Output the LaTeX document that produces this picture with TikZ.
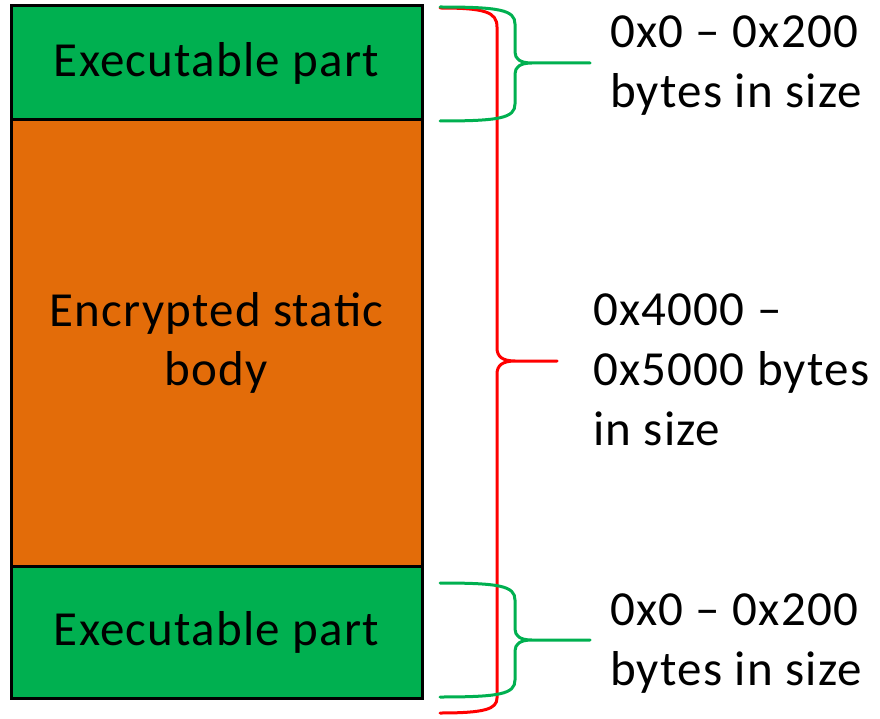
\documentclass[tikz,border=0pt]{standalone}
\usepackage{fontspec}
\setmainfont{Carlito}[LetterSpace=2.5]
\begin{document}
\begin{tikzpicture}[x=1pt,y=-1pt,
  block/.style={draw=black,line width=3pt,minimum width=411pt,inner sep=0pt,
    align=center,font=\fontsize{49}{59}\selectfont},
  greenpart/.style={block,fill=partgreen},
  orangepart/.style={block,fill=partorange},
  sizelabel/.style={anchor=base west,align=left,inner sep=0pt,
    font=\fontsize{49}{60}\selectfont},
  brace/.style={line width=3pt,line cap=round,line join=round},
]
\definecolor{partgreen}{HTML}{00B050}
\definecolor{partorange}{HTML}{E36C09}
\definecolor{bracered}{HTML}{FF0000}
\useasboundingbox (0,0) rectangle (880,719);

% file layout blocks
\node[orangepart,minimum height=446pt] (body) at (216.5,343) {Encrypted static\\body};
\node[greenpart,minimum height=114pt] (head) at (216.5,63) {Executable part};
\node[greenpart,minimum height=132pt] (tail) at (216.5,632) {Executable part};

% brace spanning the whole file
\coordinate (rtop) at (440,8);
\coordinate (rbot) at (440,713);
\coordinate (rtip) at (557,361);
\draw[brace,bracered]
  (rtop) .. controls (485,8) and (497,12) .. (497,27) -- (497,348)
  .. controls (497,357) and (503,361) .. (515,361) -- (rtip)
  (515,361) .. controls (503,361) and (497,365) .. (497,374) -- (497,698)
  .. controls (497,709) and (485,713) .. (rbot);

% brace over the leading executable part
\coordinate (gtop) at (440,7);
\coordinate (gbot) at (440,121);
\coordinate (gtip) at (590,63);
\draw[brace,partgreen]
  (gtop) .. controls (500,7) and (515,10) .. (515,24) -- (515,52)
  .. controls (515,59) and (520,63) .. (532,63) -- (gtip)
  (532,63) .. controls (520,63) and (515,67) .. (515,74) -- (515,104)
  .. controls (515,118) and (500,121) .. (gbot);

% brace over the trailing executable part
\coordinate (htop) at (440,583);
\coordinate (hbot) at (440,697);
\coordinate (htip) at (590,640);
\draw[brace,partgreen]
  (htop) .. controls (500,583) and (515,586) .. (515,600) -- (515,629)
  .. controls (515,636) and (520,640) .. (532,640) -- (htip)
  (532,640) .. controls (520,640) and (515,644) .. (515,651) -- (515,680)
  .. controls (515,694) and (500,697) .. (hbot);

% size annotations (anchored at the baseline of their last line)
\node[sizelabel] (headsize) at (610,108) {0x0 – 0x200\\bytes in size};
\node[sizelabel] (bodysize) at (593,445) {0x4000 –\\0x5000 bytes\\in size};
\node[sizelabel] (tailsize) at (610,685) {0x0 – 0x200\\bytes in size};
\end{tikzpicture}
\end{document}
